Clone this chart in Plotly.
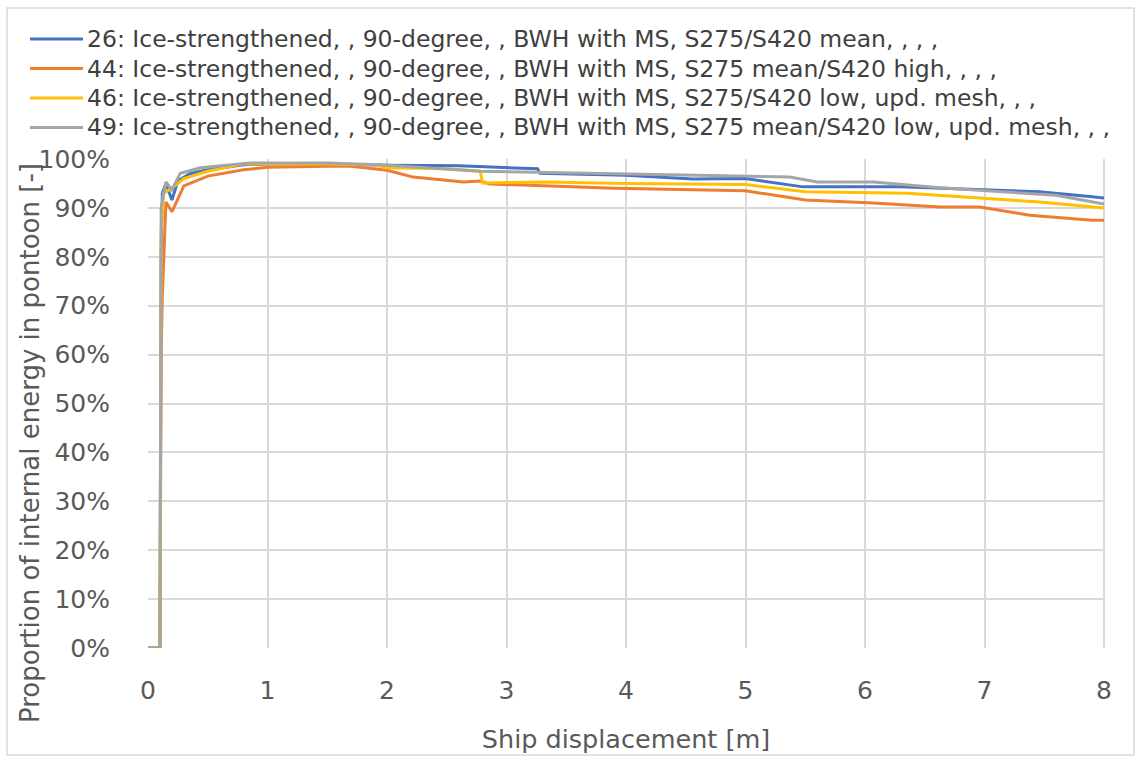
import plotly.graph_objects as go

# Ship displacement [m] and proportion of internal energy in pontoon [-]
x_26 = [0, 0.05, 0.10, 0.11, 0.12, 0.15, 0.20, 0.25, 0.35, 0.50, 0.80, 1.00, 1.50, 2.00, 2.50, 2.60,
        3.26, 3.28, 4.00, 4.56, 5.00, 5.48, 6.30, 7.00, 7.46, 7.90, 8.00]
y_26 = [0, 0, 0, 0.80, 0.93, 0.95, 0.916, 0.955, 0.970, 0.978, 0.988, 0.990, 0.990, 0.987, 0.985, 0.986,
        0.980, 0.971, 0.967, 0.959, 0.960, 0.943, 0.943, 0.937, 0.933, 0.923, 0.920]

x_44 = [0, 0.05, 0.10, 0.11, 0.12, 0.15, 0.20, 0.30, 0.50, 0.80, 1.00, 1.50, 1.70, 2.00, 2.22, 2.64,
        2.78, 2.86, 3.47, 3.90, 5.00, 5.50, 6.07, 6.63, 6.96, 7.38, 7.90, 8.00]
y_44 = [0, 0, 0, 0.60, 0.72, 0.912, 0.892, 0.945, 0.965, 0.978, 0.983, 0.985, 0.985, 0.977, 0.963, 0.953,
        0.955, 0.949, 0.943, 0.940, 0.935, 0.916, 0.910, 0.902, 0.902, 0.885, 0.875, 0.875]

x_46 = [0, 0.05, 0.10, 0.11, 0.13, 0.20, 0.30, 0.50, 0.80, 1.00, 1.50, 1.90, 2.00, 2.50, 2.78, 2.80,
        3.34, 4.00, 5.00, 5.50, 6.35, 6.96, 7.46, 8.00]
y_46 = [0, 0, 0, 0.85, 0.93, 0.940, 0.960, 0.975, 0.990, 0.990, 0.990, 0.988, 0.982, 0.980, 0.975, 0.951,
        0.953, 0.950, 0.948, 0.933, 0.930, 0.920, 0.912, 0.900]

x_49 = [0, 0.05, 0.10, 0.11, 0.15, 0.20, 0.27, 0.44, 0.85, 1.50, 1.94, 2.78, 3.60, 5.12, 5.37, 5.60,
        6.07, 6.63, 7.19, 7.60, 8.00]
y_49 = [0, 0, 0, 0.90, 0.953, 0.937, 0.971, 0.982, 0.992, 0.992, 0.988, 0.975, 0.971, 0.965, 0.963, 0.953,
        0.953, 0.941, 0.933, 0.926, 0.908]

names = [
    "26: Ice-strengthened, , 90-degree, , BWH with MS, S275/S420 mean, , , ,",
    "44: Ice-strengthened, , 90-degree, , BWH with MS, S275 mean/S420 high, , , ,",
    "46: Ice-strengthened, , 90-degree, , BWH with MS, S275/S420 low, upd. mesh, , ,",
    "49: Ice-strengthened, , 90-degree, , BWH with MS, S275 mean/S420 low, upd. mesh, , ,",
]
colors = ["#4472C4", "#ED7D31", "#FFC000", "#A5A5A5"]
series = [(x_26, y_26), (x_44, y_44), (x_46, y_46), (x_49, y_49)]

font_family = "'DejaVu Sans', sans-serif"
grid = "#D9D9D9"
text_col = "#595959"

# pixel geometry of the plot area
W, H = 1140, 760
L, R, T, B = 148, 36, 159, 112
PW, PH = W - L - R, H - T - B


def px(xp):
    return (xp - L) / PW


def py(yp):
    return (H - B - yp) / PH


fig = go.Figure()
for (xs, ys), name, col in zip(series, names, colors):
    fig.add_trace(go.Scatter(x=xs, y=ys, mode="lines", name=name,
                             line=dict(color=col, width=3), showlegend=False))

# legend block above the plot: key line + label per series
row_y = [39, 68.5, 98, 127.5]
for name, col, ry in zip(names, colors, row_y):
    fig.add_shape(type="line", xref="paper", yref="paper",
                  x0=px(30), x1=px(83), y0=py(ry), y1=py(ry),
                  line=dict(color=col, width=3))
    fig.add_annotation(text=name, xref="paper", yref="paper", x=px(85), y=py(ry),
                       xanchor="left", yanchor="middle", showarrow=False,
                       font=dict(size=23.5, color="#404040"))

fig.update_layout(
    width=W, height=H,
    paper_bgcolor="white", plot_bgcolor="white",
    margin=dict(l=L, r=R, t=T, b=B, autoexpand=False),
    font=dict(family=font_family, color=text_col),
    showlegend=False,
    xaxis=dict(range=[0, 8], dtick=1, tick0=0, showgrid=True, gridcolor=grid, gridwidth=2,
               zeroline=False, showline=False,
               ticks="outside", ticklen=20, tickcolor="rgba(0,0,0,0)",
               tickfont=dict(size=25, color=text_col),
               title=dict(text="Ship displacement [m]", font=dict(size=25.5, color=text_col), standoff=26)),
    yaxis=dict(range=[0, 1], dtick=0.1, tickformat=".0%", showgrid=True, gridcolor=grid, gridwidth=2,
               zeroline=False, showline=False,
               ticks="outside", ticklen=32, tickcolor="rgba(0,0,0,0)",
               tickfont=dict(size=25, color=text_col)),
)

# y-axis title placed as a rotated annotation
fig.add_annotation(text="Proportion of internal energy in pontoon [-]",
                   xref="paper", yref="paper", x=px(30), y=py(443),
                   textangle=-90, showarrow=False, xanchor="center", yanchor="middle",
                   font=dict(size=26, color=text_col))

# right edge of the plot frame
fig.add_shape(type="line", xref="paper", yref="paper", x0=1, x1=1, y0=0, y1=1,
              line=dict(color=grid, width=2), layer="below")
# outer chart border
fig.add_shape(type="rect", xref="paper", yref="paper",
              x0=px(7), x1=px(1134), y0=py(755), y1=py(8),
              line=dict(color="#D9D9D9", width=1.5))

fig.write_html("out.html")
